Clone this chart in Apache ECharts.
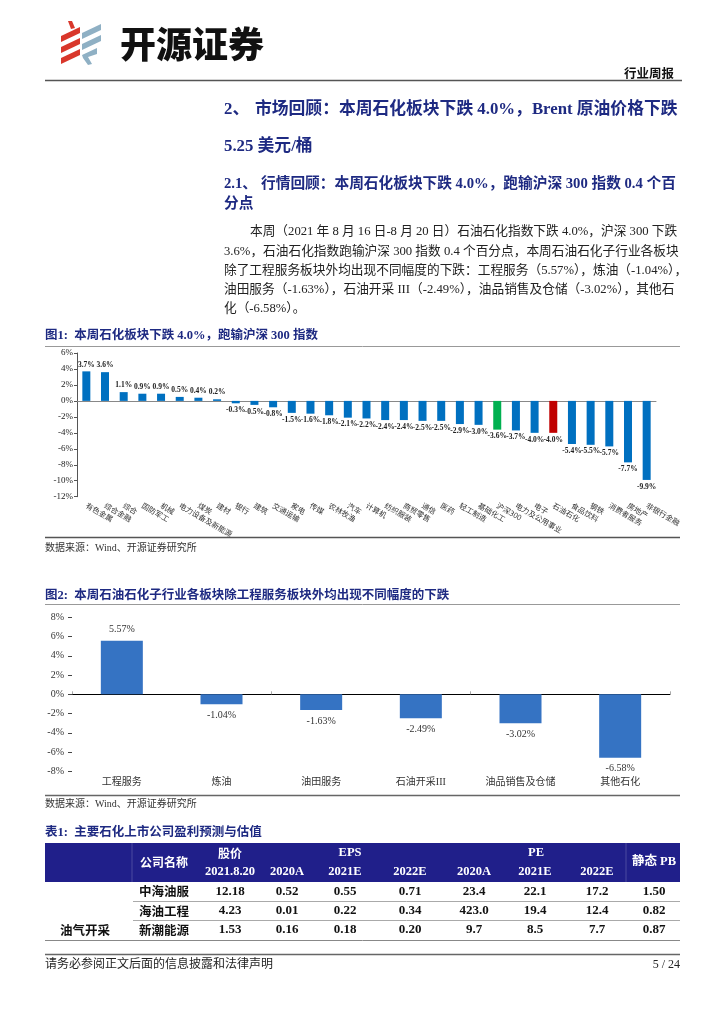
<!DOCTYPE html>
<html><head><meta charset="utf-8">
<script src="https://cdn.jsdelivr.net/npm/echarts@6/dist/echarts.min.js"></script>
<style>html,body{margin:0;padding:0;background:#fff}#c{width:724px;height:1024px}</style>
</head><body><div id="c"></div>
<script>
// ---------- Figure 1 data ----------
const fig1Categories = ['有色金属','综合金融','综合','国防军工','机械','电力设备及新能源','煤炭','建材','银行','建筑','交通运输','家电','传媒','农林牧渔','汽车','计算机','纺织服装','商贸零售','通信','医药','轻工制造','基础化工','沪深300','电力及公用事业','电子','石油石化','食品饮料','钢铁','消费者服务','房地产','非银行金融'];
const fig1Values = [3.7,3.6,1.1,0.9,0.9,0.5,0.4,0.2,-0.3,-0.5,-0.8,-1.5,-1.6,-1.8,-2.1,-2.2,-2.4,-2.4,-2.5,-2.5,-2.9,-3.0,-3.6,-3.7,-4.0,-4.0,-5.4,-5.5,-5.7,-7.7,-9.9];
const fig1Benchmark = '沪深300';
const fig1Sector = '石油石化';
// ---------- Figure 2 data ----------
const fig2Categories = ['工程服务','炼油','油田服务','石油开采III','油品销售及仓储','其他石化'];
const fig2Values = [5.57,-1.04,-1.63,-2.49,-3.02,-6.58];
// ---------- Table 1 data ----------
const tblCompanies = ['中海油服','海油工程','新潮能源'];
const tblPrice = ['12.18','4.23','1.53'];
const tblEps2020 = ['0.52','0.01','0.16'];
const tblEps2021 = ['0.55','0.22','0.18'];
const tblEps2022 = ['0.71','0.34','0.20'];
const tblPe2020 = ['23.4','423.0','9.7'];
const tblPe2021 = ['22.1','19.4','8.5'];
const tblPe2022 = ['17.2','12.4','7.7'];
const tblPb = ['1.50','0.82','0.87'];
const tblSector = '油气开采';

const SERIF = '"Liberation Serif","Noto Sans CJK SC",serif';
const CJK = '"Noto Sans CJK SC",sans-serif';
const NAVY = '#1E2A82';

function T(text, x, y, o) {
  o = o || {};
  const size = o.size || 12.5, weight = o.weight || 'normal', fam = o.family || SERIF;
  return {type:'text', z: o.z || 10, style:{text:text, x:x, y:y,
    font: weight + ' ' + size + 'px ' + fam,
    fill: o.color || '#222', align: o.align || 'left', textAlign: o.align || 'left',
    verticalAlign:'middle', textVerticalAlign:'middle'}};
}
function L(x1,y1,x2,y2,color,w){
  return {type:'line', z:5, shape:{x1:x1,y1:y1,x2:x2,y2:y2}, style:{stroke:color, lineWidth:w}};
}
function P(points, color){ return {type:'polygon', shape:{points:points}, style:{fill:color}}; }

const g = [];
// Logo
const RED = '#D9372B', BLUE = '#8FB0C4';
g.push(P([[68,21],[72,21],[75,28],[71,29]], RED));
g.push(P([[61,36],[80,27],[80,33],[61,42]], RED));
g.push(P([[61,47],[80,38],[80,44],[61,53]], RED));
g.push(P([[61,58],[80,49],[80,55],[61,64]], RED));
g.push(P([[82,33],[101,24],[101,30],[82,39]], BLUE));
g.push(P([[82,44],[101,35],[101,41],[82,50]], BLUE));
g.push(P([[82,55],[97,48],[97,54],[88,57],[92,64],[88,65],[83,58]], BLUE));
g.push(T('开源证券', 120, 44, {size:36, weight:'900', family:CJK, color:'#111'}));
g.push(T('行业周报', 674, 73, {size:12.5, weight:'bold', family:CJK, color:'#111', align:'right'}));
g.push(L(45, 80.5, 682, 80.5, '#555', 1.5));

// Headings
g.push(T('2、', 224, 110, {size:16.8, weight:'bold', color:NAVY}));
g.push(T('市场回顾：本周石化板块下跌 4.0%，Brent 原油价格下跌', 255, 110, {size:16.8, weight:'bold', color:NAVY}));
g.push(T('5.25 美元/桶', 224, 147, {size:16.8, weight:'bold', color:NAVY}));
g.push(T('2.1、', 224, 184, {size:14.7, weight:'bold', color:NAVY}));
g.push(T('行情回顾：本周石化板块下跌 4.0%，跑输沪深 300 指数 0.4 个百', 261, 184, {size:14.7, weight:'bold', color:NAVY}));
g.push(T('分点', 224, 204, {size:14.7, weight:'bold', color:NAVY}));

const para = [
  ['本周（2021 年 8 月 16 日-8 月 20 日）石油石化指数下跌 4.0%，沪深 300 下跌', 250],
  ['3.6%，石油石化指数跑输沪深 300 指数 0.4 个百分点，本周石油石化子行业各板块', 224],
  ['除了工程服务板块外均出现不同幅度的下跌：工程服务（5.57%），炼油（-1.04%），', 224],
  ['油田服务（-1.63%），石油开采 III（-2.49%），油品销售及仓储（-3.02%），其他石', 224],
  ['化（-6.58%）。', 224]
];
para.forEach((p,i)=>g.push(T(p[0], p[1], 232 + 19.2*i, {size:12.7, color:'#222'})));

// Figure titles
g.push(T('图1:  本周石化板块下跌 4.0%，跑输沪深 300 指数', 45, 336, {size:12.5, weight:'bold', color:NAVY}));
g.push(L(45, 346.5, 680, 346.5, '#999', 1));
g.push(L(45, 537.5, 680, 537.5, '#555', 1.5));
g.push(T('数据来源：Wind、开源证券研究所', 45, 548, {size:10, color:'#333'}));
g.push(T('图2:  本周石油石化子行业各板块除工程服务板块外均出现不同幅度的下跌', 45, 596, {size:12.5, weight:'bold', color:NAVY}));
g.push(L(45, 604.5, 680, 604.5, '#999', 1));
g.push(L(45, 795.5, 680, 795.5, '#666', 1.5));
g.push(T('数据来源：Wind、开源证券研究所', 45, 804, {size:10, color:'#333'}));

// Table
g.push(T('表1:  主要石化上市公司盈利预测与估值', 45, 833, {size:12.5, weight:'bold', color:NAVY}));
g.push({type:'rect', z:4, shape:{x:45, y:843, width:635, height:39}, style:{fill:'#201F8A'}});
g.push(L(132, 843, 132, 882, '#4a4aa0', 1));
g.push(L(626, 843, 626, 882, '#4a4aa0', 1));
const W = {size:12.5, weight:'bold', color:'#fff'};
const cols = [230, 287, 345, 410, 474, 535, 597];
g.push(T('公司名称', 164, 862, Object.assign({}, W, {family:CJK, align:'center', size:12})));
g.push(T('股价', 230, 853, Object.assign({}, W, {family:CJK, align:'center', size:12})));
g.push(T('EPS', 350, 853, Object.assign({}, W, {align:'center'})));
g.push(T('PE', 536, 853, Object.assign({}, W, {align:'center'})));
g.push(T('静态 PB', 654, 862, Object.assign({}, W, {align:'center'})));
['2021.8.20','2020A','2021E','2022E','2020A','2021E','2022E'].forEach((h,i)=>g.push(T(h, cols[i], 871.5, Object.assign({}, W, {align:'center'}))));
const rowY = [891.5, 911, 930];
tblCompanies.forEach((c,r)=>{
  g.push(T(c, 164, rowY[r], {size:12.5, weight:'bold', family:CJK, align:'center', color:'#111'}));
  const vals = [tblPrice[r], tblEps2020[r], tblEps2021[r], tblEps2022[r], tblPe2020[r], tblPe2021[r], tblPe2022[r]];
  vals.forEach((v,i)=>g.push(T(v, cols[i], rowY[r], {size:13, weight:'bold', align:'center', color:'#111'})));
  g.push(T(tblPb[r], 654, rowY[r], {size:13, weight:'bold', align:'center', color:'#111'}));
});
g.push(T(tblSector, 85, 930, {size:12.5, weight:'bold', family:CJK, align:'center', color:'#111'}));
g.push(L(133, 901.5, 680, 901.5, '#aaa', 1));
g.push(L(133, 920.5, 680, 920.5, '#aaa', 1));
g.push(L(45, 940.5, 680, 940.5, '#888', 1));

// Footer
g.push(L(45, 954.5, 680, 954.5, '#666', 1.5));
g.push(T('请务必参阅正文后面的信息披露和法律声明', 45, 965, {size:12, color:'#222'}));
g.push(T('5 / 24', 680, 965, {size:12, color:'#222', align:'right'}));

const fig1Data = fig1Values.map((v,i)=>{
  const c = fig1Categories[i];
  const color = c === fig1Benchmark ? '#00B050' : (c === fig1Sector ? '#C00000' : '#0070C0');
  return {value:v, itemStyle:{color:color}, label:{position: v >= 0 ? 'top' : 'bottom'}};
});
const fig2Data = fig2Values.map(v=>({value:v, label:{position: v >= 0 ? 'top' : 'bottom'}}));

const chart = echarts.init(document.getElementById('c'), null, {renderer:'canvas'});
chart.setOption({
  backgroundColor:'#fff',
  animation:false,
  graphic: g,
  grid:[
    {left:77, top:353, width:579, height:143.7},
    {left:72, top:617.3, width:598, height:154}
  ],
  xAxis:[
    {type:'category', gridIndex:0, data:fig1Categories, position:'bottom',
     axisLine:{show:false, onZero:false}, axisTick:{show:false},
     axisLabel:{interval:0, rotate:-30, fontSize:7.5, color:'#333', fontFamily:CJK, margin:8}},
    {type:'category', gridIndex:0, data:fig1Categories, position:'top',
     axisLine:{show:true, onZero:true, lineStyle:{color:'#888', width:1}}, axisTick:{show:false}, axisLabel:{show:false}},
    {type:'category', gridIndex:1, data:fig2Categories, position:'bottom',
     axisLine:{show:false, onZero:false}, axisTick:{show:false},
     axisLabel:{interval:0, fontSize:10, color:'#333', fontFamily:SERIF, margin:6}},
    {type:'category', gridIndex:1, data:fig2Categories, position:'top',
     axisLine:{show:true, onZero:true, lineStyle:{color:'#000', width:1}},
     axisTick:{show:true, length:3, lineStyle:{color:'#aaa'}}, axisLabel:{show:false}}
  ],
  yAxis:[
    {type:'value', gridIndex:0, min:-12, max:6, interval:2,
     axisLine:{show:true, lineStyle:{color:'#555'}}, axisTick:{show:true, length:3, lineStyle:{color:'#555'}},
     splitLine:{show:false},
     axisLabel:{formatter:'{value}%', fontSize:9, color:'#222', fontFamily:SERIF, margin:4}},
    {type:'value', gridIndex:1, min:-8, max:8, interval:2,
     axisLine:{show:false}, axisTick:{show:true, length:4, lineStyle:{color:'#444'}},
     splitLine:{show:false},
     axisLabel:{formatter:'{value}%', fontSize:10, color:'#333', fontFamily:SERIF, margin:8}}
  ],
  series:[
    {type:'bar', xAxisIndex:0, yAxisIndex:0, barWidth:8, data:fig1Data,
     label:{show:true, formatter:p=>p.value.toFixed(1)+'%', fontSize:7.5, fontWeight:'bold', color:'#222', fontFamily:SERIF, distance:3}},
    {type:'bar', xAxisIndex:2, yAxisIndex:1, barWidth:42, data:fig2Data, itemStyle:{color:'#3573C3'},
     label:{show:true, formatter:p=>p.value.toFixed(2)+'%', fontSize:10, color:'#333', fontFamily:SERIF, distance:6}}
  ]
});
</script></body></html>
